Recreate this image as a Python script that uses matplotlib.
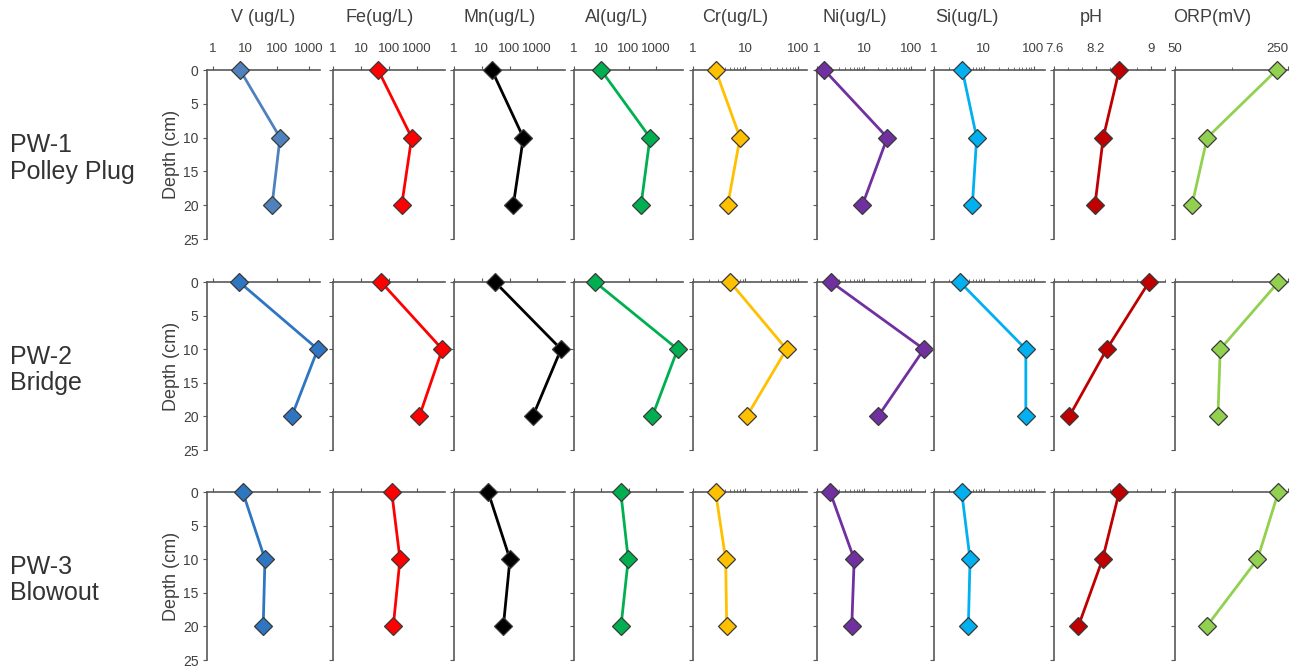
import matplotlib.pyplot as plt
from matplotlib.ticker import FixedLocator, LogLocator, NullFormatter, MultipleLocator
import numpy as np

plt.rcParams['font.family'] = ['Liberation Sans', 'DejaVu Sans']

# data
depth = [0, 10, 20]
sites = ["PW-1\nPolley Plug", "PW-2\nBridge", "PW-3\nBlowout"]
titles = ["V (ug/L)", "Fe(ug/L)", "Mn(ug/L)", "Al(ug/L)", "Cr(ug/L)",
          "Ni(ug/L)", "Si(ug/L)", "pH", "ORP(mV)"]

V = [[7, 124, 70], [6.6, 1870, 288], [8.5, 42, 37]]
Fe = [[41, 645, 284], [52, 8000, 1210], [125, 247, 142]]
Mn = [[23, 315, 137], [30, 7200, 690], [17, 104, 60]]
Al = [[9.8, 615, 288], [5.9, 6350, 745], [52, 98, 53]]
Cr = [[2.7, 7.9, 4.6], [5.1, 61, 10.6], [2.7, 4.2, 4.4]]
Ni = [[1.43, 31.5, 9.25], [2.0, 190, 20], [1.9, 6.2, 5.5]]
Si = [[3.7, 7.2, 5.9], [3.3, 70, 70], [3.6, 5.3, 4.9]]
pH = [[8.54, 8.31, 8.19], [8.97, 8.36, 7.82], [8.54, 8.30, 7.95]]
ORP = [[230, 107, 80], [233, 130, 126], [233, 196, 106]]

series = [V, Fe, Mn, Al, Cr, Ni, Si, pH, ORP]

xlims = [(0.65, 2200), (1, 10000), (1, 10000), (1, 10000), (1, 150),
         (1, 200), (1, 170), (7.6, 9.2), (50, 250)]
xticks = [[1, 10, 100, 1000], [1, 10, 100, 1000], [1, 10, 100, 1000],
          [1, 10, 100, 1000], [1, 10, 100], [1, 10, 100], [1, 10, 100],
          [7.6, 8.2, 9], [50, 250]]
ticklabels = [["1", "10", "100", "1000"]] * 4 + [["1", "10", "100"]] * 3 + \
             [["7.6", "8.2", "9"], ["50", "250"]]
is_log = [True] * 7 + [False] * 2

colors = ["#2E75C2", "#FF0000", "#000000", "#00B050", "#FFC000",
          "#7030A0", "#00B0F0", "#C00000", "#92D050"]
v_row1 = "#4F81BD"

# layout in pixels of the 1298x670 picture
W, H = 1298, 670
lefts = [207, 333, 454, 574, 693, 817, 934, 1054, 1175]
rights = [320, 445, 565, 683, 807, 925, 1045, 1165, 1288]
title_x = [263, 380, 500, 617, 735, 855, 967, 1091, 1212]
tops = [70, 282, 492]
bottoms = [239, 450, 660]

txt = "#404040"
axc = "#595959"

fig = plt.figure(figsize=(W / 100, H / 100), dpi=100)

for r in range(3):
    for c in range(9):
        ax = fig.add_axes([lefts[c] / W, 1 - bottoms[r] / H,
                           (rights[c] - lefts[c]) / W,
                           (bottoms[r] - tops[r]) / H])
        col = colors[c]
        if c == 0 and r == 0:
            col = v_row1
        ax.plot(series[c][r], depth, color=col, lw=2, marker="D", ms=9.5,
                mfc=col, mec="#3A3A3A", mew=0.9, clip_on=False, zorder=5)
        if is_log[c]:
            ax.set_xscale("log")
            ax.xaxis.set_minor_locator(LogLocator(base=10, subs=np.arange(2, 10)))
            ax.xaxis.set_minor_formatter(NullFormatter())
        elif c == 7:
            ax.xaxis.set_minor_locator(MultipleLocator(0.2))
        else:
            ax.xaxis.set_minor_locator(FixedLocator([150]))
        ax.set_xlim(*xlims[c])
        ax.xaxis.set_major_locator(FixedLocator(xticks[c]))
        ax.set_ylim(25, 0)
        ax.yaxis.set_major_locator(MultipleLocator(5))

        ax.xaxis.tick_top()
        ax.spines["right"].set_visible(False)
        ax.spines["bottom"].set_visible(False)
        for s in ["top", "left"]:
            ax.spines[s].set_color(axc)
            ax.spines[s].set_linewidth(1.2)
        ax.tick_params(axis="x", which="major", direction="out", length=3,
                       color=axc, labelsize=9.5, labelcolor=txt, pad=8)
        ax.tick_params(axis="x", which="minor", direction="out", length=2,
                       color=axc)
        ax.tick_params(axis="y", which="major", direction="out", length=3,
                       color=axc, labelsize=10, labelcolor=txt, pad=3)
        if r == 0:
            labs = ax.set_xticklabels(ticklabels[c])
            if c == 8:
                labs[-1].set_horizontalalignment("right")
        else:
            ax.set_xticklabels([])
        if c != 0:
            ax.set_yticklabels([])
        else:
            ax.set_ylabel("Depth (cm)", fontsize=13, color=txt, labelpad=2)
        ax.patch.set_alpha(0)

    mid = (tops[r] + bottoms[r]) / 2 + 4
    fig.text(10 / W, 1 - mid / H, sites[r], fontsize=18, color="#333333",
             ha="left", va="center", linespacing=1.15)

for c in range(9):
    fig.text(title_x[c] / W, 1 - 17 / H, titles[c], fontsize=13, color=txt,
             ha="center", va="center")

fig.savefig("out.png", dpi=100)
